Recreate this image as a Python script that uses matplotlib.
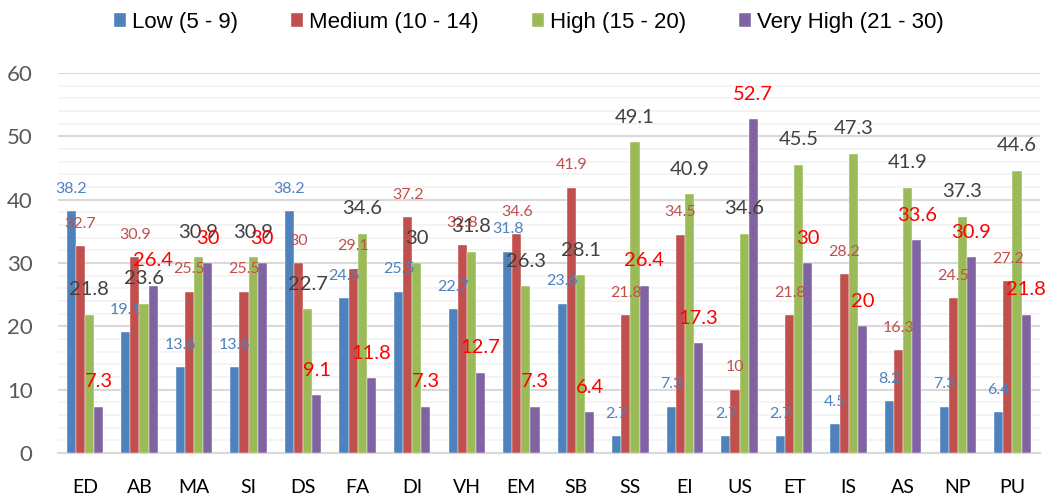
import matplotlib.pyplot as plt
import numpy as np

cats = ["ED", "AB", "MA", "SI", "DS", "FA", "DI", "VH", "EM",
        "SB", "SS", "EI", "US", "ET", "IS", "AS", "NP", "PU"]
low = [38.2, 19.1, 13.6, 13.6, 38.2, 24.5, 25.5, 22.7, 31.8,
       23.6, 2.7, 7.3, 2.7, 2.7, 4.5, 8.2, 7.3, 6.4]
medium = [32.7, 30.9, 25.5, 25.5, 30, 29.1, 37.2, 32.8, 34.6,
          41.9, 21.8, 34.5, 10, 21.8, 28.2, 16.3, 24.5, 27.2]
high = [21.8, 23.6, 30.9, 30.9, 22.7, 34.6, 30, 31.8, 26.3,
        28.1, 49.1, 40.9, 34.6, 45.5, 47.3, 41.9, 37.3, 44.6]
very_high = [7.3, 26.4, 30, 30, 9.1, 11.8, 7.3, 12.7, 7.3,
             6.4, 26.4, 17.3, 52.7, 30, 20, 33.6, 30.9, 21.8]
names = ["Low (5 - 9)", "Medium (10 - 14)", "High (15 - 20)", "Very High (21 - 30)"]

series = [low, medium, high, very_high]
colors = ["#4F81BD", "#C0504D", "#9BBB59", "#8064A2"]
lab_colors = ["#4F81BD", "#C0504D", "#404040", "#FF0000"]
lab_sizes = [11.5, 11.5, 14.5, 14.5]
lab_offs = [16, 16, 18, 18]

fig = plt.figure(figsize=(10.47, 5.01), dpi=100)
ax = fig.add_axes([0.055, 0.096, 0.938, 0.758])

x = np.arange(len(cats))
w = 0.167
for i, s in enumerate(series):
    pos = x + (i - 1.5) * w
    ax.bar(pos, s, w, color=colors[i], label=names[i], zorder=3,
           edgecolor="white", linewidth=0.3)
    for px, v in zip(pos, s):
        ax.annotate(f"{v:g}", (px, v), xytext=(0, lab_offs[i]),
                    textcoords="offset points", ha="center", va="center",
                    fontsize=lab_sizes[i], color=lab_colors[i],
                    family="Lato", zorder=5)

ax.set_xlim(-0.5, len(cats) - 0.5)
ax.set_ylim(0, 60)
ax.set_yticks(range(0, 61, 10))
ax.set_yticks(range(0, 61, 2), minor=True)
ax.grid(axis="y", which="major", color="#D9D9D9", linewidth=1.5, zorder=0)
ax.grid(axis="y", which="minor", color="#F2F2F2", linewidth=1.2, zorder=0)
ax.set_xticks(x)
ax.set_xticklabels(cats, family="Lato", fontsize=14, color="black")
for t in ax.get_yticklabels():
    t.set_family("Lato")
    t.set_fontsize(16)
    t.set_color("#595959")
ax.tick_params(axis="both", which="both", length=0)
ax.tick_params(axis="x", pad=19)
ax.tick_params(axis="y", pad=18)
for sp in ["top", "right", "left"]:
    ax.spines[sp].set_visible(False)
ax.spines["bottom"].set_color("#D9D9D9")
ax.spines["bottom"].set_linewidth(1.5)

leg = fig.legend(loc="center", bbox_to_anchor=(0.505, 0.955), ncol=4,
                 frameon=False, prop={"family": "Liberation Sans", "size": 16},
                 handlelength=0.55, handleheight=0.55, handletextpad=0.25,
                 columnspacing=2.4)

fig.savefig("out.png", dpi=100)
